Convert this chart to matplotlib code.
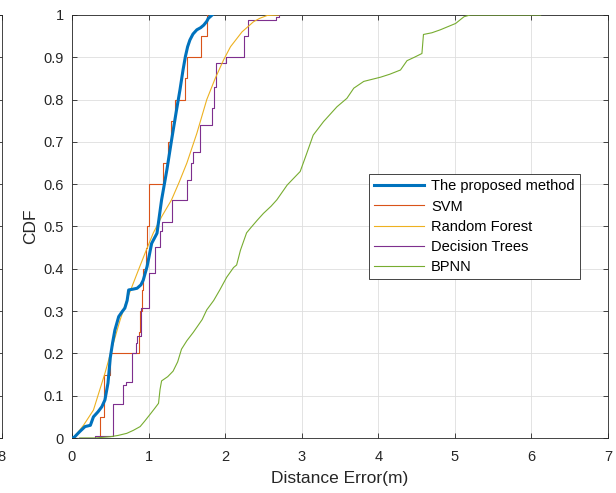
import numpy as np
import matplotlib
matplotlib.use("Agg")
import matplotlib.pyplot as plt

plt.rcParams['font.family'] = ['Liberation Sans', 'DejaVu Sans']

# ---- data ----
proposed_x = [0.0, 0.02, 0.10, 0.17, 0.24, 0.28, 0.34, 0.39, 0.43, 0.47, 0.50, 0.53, 0.56, 0.61,
              0.66, 0.69, 0.72, 0.74, 0.80, 0.85, 0.90, 0.93, 0.98, 1.04, 1.11, 1.17, 1.24, 1.30,
              1.36, 1.41, 1.45, 1.48, 1.51, 1.54, 1.58, 1.63, 1.68, 1.72, 1.76, 1.78, 1.83]
proposed_y = [0.0, 0.0, 0.015, 0.027, 0.03, 0.05, 0.062, 0.074, 0.09, 0.13, 0.19, 0.225, 0.255, 0.287,
              0.30, 0.307, 0.325, 0.35, 0.352, 0.354, 0.362, 0.373, 0.405, 0.46, 0.484, 0.563, 0.635, 0.704,
              0.77, 0.823, 0.87, 0.901, 0.925, 0.941, 0.955, 0.965, 0.97, 0.976, 0.985, 0.992, 1.0]

svm_err = [0.36, 0.42, 0.42, 0.49, 0.88, 0.89, 0.92, 0.93, 0.96, 0.98, 1.01, 1.01,
           1.19, 1.26, 1.29, 1.35, 1.48, 1.50, 1.69, 1.76]

rf_x = [0.0, 0.02, 0.15, 0.28, 0.43, 0.54, 0.63, 0.715, 0.85, 0.954, 1.06, 1.17, 1.30, 1.40,
        1.50, 1.63, 1.76, 1.87, 1.98, 2.07, 2.22, 2.37, 2.45, 2.55, 2.70]
rf_y = [0.0, 0.0, 0.03, 0.066, 0.153, 0.224, 0.28, 0.326, 0.389, 0.437, 0.484, 0.523, 0.563, 0.605,
        0.65, 0.72, 0.80, 0.85, 0.894, 0.925, 0.96, 0.984, 0.992, 0.999, 1.0]

dt_x = [0.0, 0.30, 0.54, 0.67, 0.71, 0.79, 0.84, 0.85, 0.90, 1.01, 1.085, 1.15, 1.17, 1.30,
        1.50, 1.56, 1.585, 1.67, 1.83, 1.85, 1.88, 2.01, 2.24, 2.30, 2.67, 2.70]
dt_y = [0.0, 0.004, 0.08, 0.125, 0.133, 0.20, 0.225, 0.24, 0.307, 0.39, 0.452, 0.49, 0.511, 0.563,
        0.61, 0.649, 0.677, 0.74, 0.78, 0.83, 0.886, 0.90, 0.95, 0.988, 0.996, 1.0]

bp_x = [0.10, 0.30, 0.50, 0.60, 0.715, 0.80, 0.89, 0.95, 1.02, 1.08, 1.13, 1.15, 1.17, 1.25, 1.32,
        1.38, 1.43, 1.50, 1.585, 1.70, 1.76, 1.85, 1.93, 2.02, 2.11, 2.15, 2.20, 2.28, 2.33, 2.42,
        2.50, 2.60, 2.675, 2.81, 2.90, 2.98, 3.06, 3.15, 3.285, 3.37, 3.46, 3.59, 3.68, 3.81, 3.92,
        4.03, 4.15, 4.29, 4.375, 4.47, 4.57, 4.59, 4.70, 4.81, 5.01, 5.12, 5.20, 6.12]
bp_y = [0.0, 0.0, 0.003, 0.006, 0.011, 0.018, 0.027, 0.04, 0.056, 0.07, 0.082, 0.115, 0.135, 0.145,
        0.158, 0.18, 0.21, 0.23, 0.25, 0.28, 0.303, 0.325, 0.35, 0.38, 0.403, 0.409, 0.444, 0.485,
        0.496, 0.515, 0.531, 0.548, 0.563, 0.598, 0.615, 0.63, 0.67, 0.716, 0.748, 0.765, 0.783,
        0.803, 0.827, 0.843, 0.848, 0.853, 0.86, 0.87, 0.892, 0.90, 0.909, 0.954, 0.958, 0.965,
        0.98, 0.996, 1.0, 1.0]

labels = ['The proposed method', 'SVM', 'Random Forest', 'Decision Trees', 'BPNN']
colors = ['#0072BD', '#D95319', '#EDB120', '#7E2F8E', '#77AC30']

xticks = [0, 1, 2, 3, 4, 5, 6, 7]
yticks = [0, 0.1, 0.2, 0.3, 0.4, 0.5, 0.6, 0.7, 0.8, 0.9, 1]
yticklabels = ['0', '0.1', '0.2', '0.3', '0.4', '0.5', '0.6', '0.7', '0.8', '0.9', '1']

# ---- figure ----
W, H = 616, 493
fig = plt.figure(figsize=(W / 100, H / 100), dpi=100)
L, R, T, B = 72, 608, 15, 438
ax = fig.add_axes([L / W, (H - B) / H, (R - L) / W, (B - T) / H])

edge = '#262626'

# partial neighbour axes on the far left (its right edge is all that is visible)
ax0 = fig.add_axes([-0.5, (H - B) / H, 0.5 + 1.5 / W, (B - T) / H])
ax0.set_xlim(0, 8)
ax0.set_ylim(0, 1)
ax0.set_xticks([8])
ax0.set_xticklabels(['8'])
ax0.set_yticks(yticks)
ax0.set_yticklabels([])
for s in ax0.spines.values():
    s.set_color(edge)
    s.set_linewidth(0.6)
ax0.tick_params(direction='in', length=3.5, width=0.6, colors=edge, labelsize=10.5,
                right=True, top=True, pad=8.5)

# curves
ax.plot(proposed_x, proposed_y, color=colors[0], lw=2.2, label=labels[0], zorder=5)

svm_sorted = np.sort(np.array(svm_err))
svm_cdf = np.arange(1, len(svm_sorted) + 1) / len(svm_sorted)
ax.step(np.concatenate([[0.0], svm_sorted]), np.concatenate([[0.0], svm_cdf]),
        where='post', color=colors[1], lw=0.8, label=labels[1], zorder=3)

ax.plot(rf_x, rf_y, color=colors[2], lw=0.8, label=labels[2], zorder=4)
ax.step(dt_x, dt_y, where='post', color=colors[3], lw=0.8, label=labels[3], zorder=3)
ax.plot(bp_x, bp_y, color=colors[4], lw=0.8, label=labels[4], zorder=3)

ax.set_xlim(0, 7)
ax.set_ylim(0, 1)
ax.set_xticks(xticks)
ax.set_xticklabels([str(t) for t in xticks])
ax.set_yticks(yticks)
ax.set_yticklabels(yticklabels)
ax.grid(True, color='#dedede', lw=0.6)
ax.set_axisbelow(True)
for s in ax.spines.values():
    s.set_color(edge)
    s.set_linewidth(0.6)
ax.tick_params(direction='in', length=3.5, width=0.6, colors=edge, labelsize=10.5,
               right=True, top=True)
ax.tick_params(axis='x', pad=8.5)
ax.tick_params(axis='y', pad=6)
ax.set_xlabel('Distance Error(m)', fontsize=12.5, color='#262626', labelpad=5)
ax.set_ylabel('CDF', fontsize=12.5, color='#262626', labelpad=4)

leg = ax.legend(loc='lower left', bbox_to_anchor=((369 - L) / (R - L), (B - 279) / (B - T)),
                fontsize=10.5, frameon=True, fancybox=False, framealpha=1,
                edgecolor='#262626', handlelength=3.4, labelspacing=0.42,
                borderpad=0.35, handletextpad=0.5, borderaxespad=0)
leg.get_frame().set_linewidth(0.6)

fig.savefig('out.png', dpi=100)
